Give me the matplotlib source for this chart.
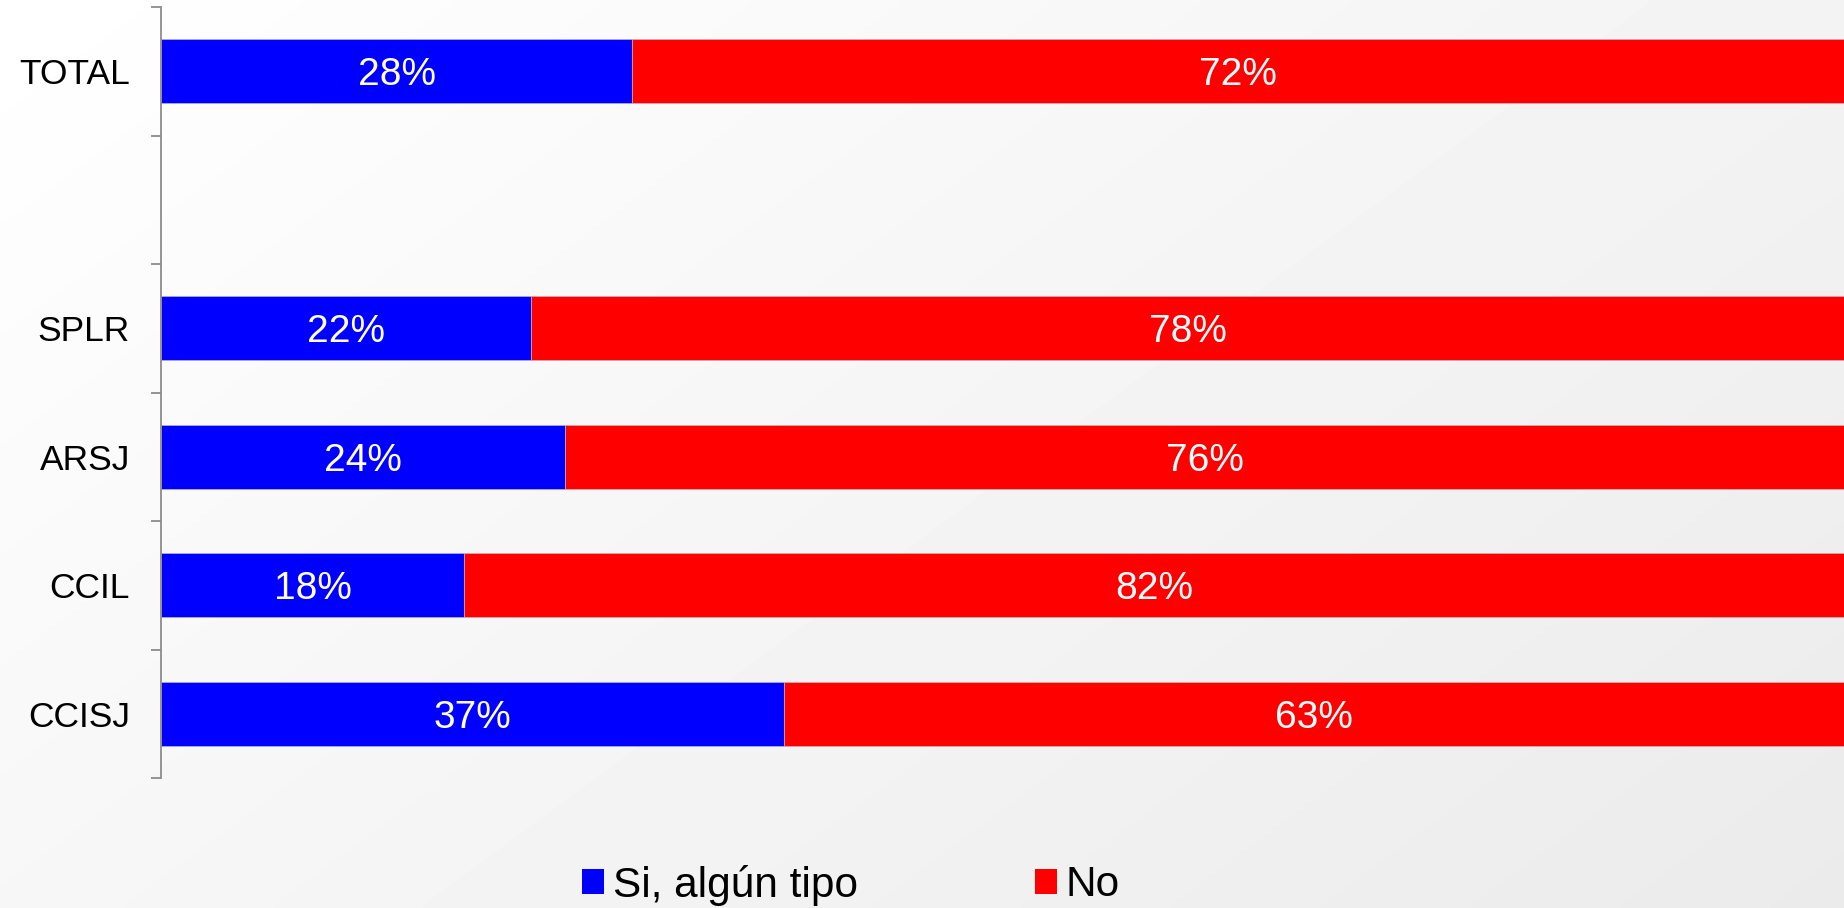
import numpy as np
import matplotlib
matplotlib.use("Agg")
import matplotlib.pyplot as plt
from matplotlib.patches import Patch

plt.rcParams['font.family'] = ['Liberation Sans', 'DejaVu Sans']

categories = ["TOTAL", "", "SPLR", "ARSJ", "CCIL", "CCISJ"]
si_values = [28, None, 22, 24, 18, 37]
no_values = [72, None, 78, 76, 82, 63]
series_names = ["Si, algún tipo", "No"]
colors = ["#0000FF", "#FF0000"]

W, H = 1844, 908
fig = plt.figure(figsize=(W / 100, H / 100), dpi=100)

# background gradient
bg = fig.add_axes([0, 0, 1, 1], zorder=0)
xx, yy = np.meshgrid(np.linspace(0, 1, 300), np.linspace(0, 1, 150))
g = (0.75 * xx + 0.5 * yy) / 1.25
bg.imshow(1 - 0.08 * g, cmap="gray", vmin=0, vmax=1, aspect="auto",
          extent=[0, 1, 0, 1], origin="upper", interpolation="bilinear")
bg.set_axis_off()

ax = fig.add_axes([161 / W, 1 - 778 / H, 1 - 161 / W, (778 - 7) / H], zorder=1)
ax.set_facecolor("none")

ypos = np.arange(len(categories))
edge = (0.75, 0.75, 0.8, 0.7)
for i, (s, n) in enumerate(zip(si_values, no_values)):
    if s is None:
        continue
    ax.barh(i, s, height=0.5, color=colors[0], edgecolor=edge, linewidth=0.6)
    ax.barh(i, n, left=s, height=0.5, color=colors[1], edgecolor=edge, linewidth=0.6)
    ax.text(s / 2, i, f"{s}%", color="white", ha="center", va="center_baseline", fontsize=28)
    ax.text(s + n / 2, i, f"{n}%", color="white", ha="center", va="center_baseline", fontsize=28)

ax.set_xlim(0, 100)
ax.set_ylim(len(categories) - 0.5, -0.5)
ax.set_yticks(ypos, labels=categories, fontsize=25.5)
ax.set_yticks(np.arange(len(categories) + 1) - 0.5, minor=True)
ax.tick_params(axis="y", which="major", length=0, pad=31 * 0.72)
ax.tick_params(axis="y", which="minor", length=7.5, width=1.3, color="#8c8c8c")
ax.set_xticks([])
for sp in ["top", "right", "bottom"]:
    ax.spines[sp].set_visible(False)
ax.spines["left"].set_color("#8c8c8c")
ax.spines["left"].set_linewidth(1.3)

handles = [Patch(facecolor=c, edgecolor="none") for c in colors]
fig.legend(handles, series_names, loc="center left",
           bbox_to_anchor=(582 / W, 1 - 885 / H), ncol=2, frameon=False,
           fontsize=30.5, handlelength=0.52, handleheight=0.52, handletextpad=0.2,
           columnspacing=4.2, borderpad=0, borderaxespad=0)

fig.savefig("out.png", dpi=100)
